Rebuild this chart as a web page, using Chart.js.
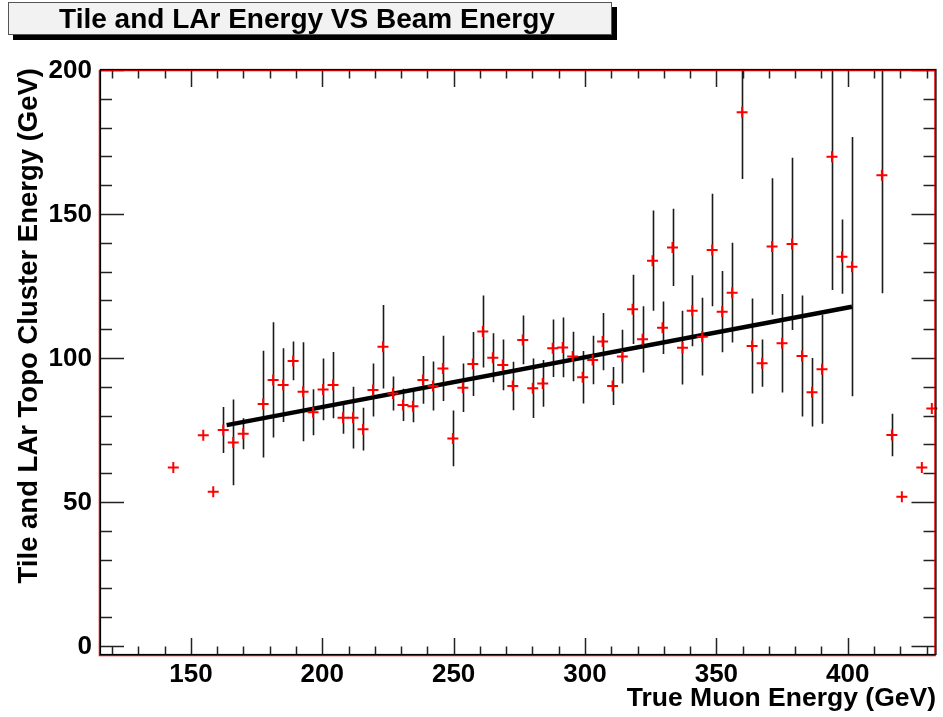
<!DOCTYPE html>
<html>
<head>
<meta charset="utf-8">
<title>Tile and LAr Energy VS Beam Energy</title>
<script src="https://cdn.jsdelivr.net/npm/chart.js@4.4.1/dist/chart.umd.min.js"></script>
<style>
  html, body { margin: 0; padding: 0; background: #fff; }
  #wrap { width: 943px; height: 717px; }
</style>
</head>
<body>
<div id="wrap"><canvas id="energyChart" width="943" height="717"></canvas></div>
<script>
// profile points: true muon energy (GeV), mean topo cluster energy (GeV), error
const muonEnergy = [
  143.3, 154.7, 158.5, 162.3, 166.1, 169.9, 177.5, 181.3, 185.1, 188.9,
  192.7, 196.5, 200.3, 204.1, 207.9, 211.7, 215.5, 219.3, 223.1, 226.9,
  230.7, 234.5, 238.3, 242.1, 245.9, 249.7, 253.5, 257.3, 261.1, 264.9,
  268.7, 272.5, 276.3, 280.1, 283.9, 287.7, 291.5, 295.3, 299.1, 302.9,
  306.7, 310.5, 314.2, 318.1, 321.9, 325.7, 329.5, 333.3, 337.1, 340.8,
  344.6, 348.4, 352.2, 356.0, 359.8, 363.6, 367.4, 371.2, 375.0, 378.8,
  382.6, 386.4, 390.2, 394.0, 397.8, 401.6, 413.0, 416.8, 420.6, 428.2,
  432.0
];
const clusterEnergy = [
  62.0, 73.2, 53.6, 75.0, 70.7, 73.7, 84.0, 92.4, 90.6, 99.0,
  88.3, 81.2, 89.1, 90.6, 79.3, 79.3, 75.3, 88.9, 103.9, 87.7,
  83.7, 83.3, 92.4, 90.3, 96.4, 72.1, 89.7, 97.9, 109.2, 100.1,
  97.6, 90.3, 106.3, 89.5, 91.2, 103.4, 103.7, 100.5, 93.3, 99.3,
  105.7, 90.3, 100.5, 116.9, 106.5, 133.8, 110.5, 138.4, 103.6, 116.4,
  107.4, 137.5, 116.1, 122.7, 185.3, 104.2, 98.2, 138.7, 105.1, 139.6,
  100.7, 88.1, 96.1, 169.9, 135.2, 131.7, 163.5, 73.3, 51.8, 62.0,
  82.5
];
const clusterError = [
  0, 0, 0, 8.0, 14.9, 5.4, 18.5, 20.0, 12.8, 6.7,
  17.2, 8.0, 10.7, 11.5, 5.6, 10.7, 7.4, 9.2, 14.5, 5.9,
  5.6, 5.6, 8.3, 8.5, 11.3, 9.7, 8.4, 11.1, 12.5, 8.5,
  8.8, 8.4, 8.5, 10.3, 8.1, 10.0, 10.4, 8.6, 9.1, 8.4,
  9.9, 6.6, 9.3, 12.0, 11.5, 17.4, 9.1, 13.4, 12.8, 12.3,
  13.5, 19.5, 14.1, 17.3, 23.1, 16.5, 8.2, 23.7, 17.1, 29.9,
  21.0, 11.9, 18.9, 46.3, 12.9, 45.0, 41.0, 7.4, 0, 0,
  0
];

// straight-line fit over the fitted range
const fitEnergy = [163.6, 401.6];
const fitCluster = [76.7, 117.8];

const xTicks = [150, 200, 250, 300, 350, 400];
const yTicks = [0, 50, 100, 150, 200];

const titleText = "Tile and LAr Energy VS Beam Energy";
const xTitle = "True Muon Energy (GeV)";
const yTitle = "Tile and LAr Topo Cluster Energy (GeV)";

const FONT = '"Liberation Sans", Arial, Helvetica, sans-serif';

const points = muonEnergy.map((e, i) => ({ x: e, y: clusterEnergy[i] }));
const fitLine = fitEnergy.map((e, i) => ({ x: e, y: fitCluster[i] }));

// error bars go under the markers
const errorBars = {
  id: "errorBars",
  beforeDatasetsDraw(chart) {
    const { ctx, chartArea, scales } = chart;
    ctx.save();
    ctx.beginPath();
    ctx.rect(chartArea.left, chartArea.top, chartArea.right - chartArea.left, chartArea.bottom - chartArea.top);
    ctx.clip();
    ctx.strokeStyle = "#1a1a1a";
    ctx.lineWidth = 1.6;
    muonEnergy.forEach((e, i) => {
      const err = clusterError[i];
      if (!err) return;
      const px = Math.round(scales.x.getPixelForValue(e)) + 0.5;
      ctx.beginPath();
      ctx.moveTo(px, scales.y.getPixelForValue(clusterEnergy[i] + err));
      ctx.lineTo(px, scales.y.getPixelForValue(clusterEnergy[i] - err));
      ctx.stroke();
    });
    ctx.restore();
  }
};

// ROOT-like frame, inward ticks, labels and title box
const rootFrame = {
  id: "rootFrame",
  afterDraw(chart) {
    const { ctx, chartArea: a, scales } = chart;
    const w = a.right - a.left, h = a.bottom - a.top;
    ctx.save();

    // ticks
    ctx.strokeStyle = "#222";
    ctx.lineWidth = 1.5;
    ctx.beginPath();
    for (let v = 120; v <= 430; v += 10) {
      const px = Math.round(scales.x.getPixelForValue(v)) + 0.5;
      const len = v % 50 === 0 ? 17 : 8.5;
      ctx.moveTo(px, a.bottom); ctx.lineTo(px, a.bottom - len);
      ctx.moveTo(px, a.top); ctx.lineTo(px, a.top + len);
    }
    for (let v = 0; v <= 200; v += 10) {
      const py = Math.round(scales.y.getPixelForValue(v)) + 0.5;
      const len = v % 50 === 0 ? 24 : 12;
      ctx.moveTo(a.left, py); ctx.lineTo(a.left + len, py);
      ctx.moveTo(a.right, py); ctx.lineTo(a.right - len, py);
    }
    ctx.stroke();

    // frame: red box with the black axes one pixel off
    ctx.strokeStyle = "#e00000";
    ctx.lineWidth = 1.5;
    ctx.strokeRect(a.left - 0.5, a.top + 0.5, w, h);
    ctx.strokeStyle = "#000";
    ctx.lineWidth = 1.2;
    ctx.strokeRect(a.left + 0.5, a.top - 0.5, w, h);

    // tick labels
    ctx.fillStyle = "#000";
    ctx.font = "bold 26px " + FONT;
    ctx.textAlign = "center";
    ctx.textBaseline = "alphabetic";
    xTicks.forEach(v => ctx.fillText(String(v), scales.x.getPixelForValue(v), 682));
    ctx.textAlign = "right";
    ctx.textBaseline = "middle";
    yTicks.forEach(v => ctx.fillText(String(v), 92, scales.y.getPixelForValue(v) + 1));

    // axis titles
    ctx.textAlign = "right";
    ctx.textBaseline = "alphabetic";
    ctx.font = "bold 26.5px " + FONT;
    ctx.fillText(xTitle, 936, 706);
    ctx.save();
    ctx.translate(37, 68);
    ctx.rotate(-Math.PI / 2);
    ctx.font = "bold 27.5px " + FONT;
    ctx.fillText(yTitle, 0, 0);
    ctx.restore();

    // title box with shadow
    ctx.fillStyle = "#000";
    ctx.fillRect(13, 7, 604, 33);
    ctx.fillStyle = "#f2f2f2";
    ctx.fillRect(8, 2, 604, 33);
    ctx.strokeStyle = "#555";
    ctx.lineWidth = 1;
    ctx.strokeRect(8.5, 2.5, 603, 32);
    ctx.fillStyle = "#000";
    ctx.font = "bold 28px " + FONT;
    ctx.textAlign = "center";
    ctx.fillText(titleText, 307, 28);

    ctx.restore();
  }
};

const config = {
  type: "scatter",
  data: {
    datasets: [
      {
        label: "fit",
        type: "line",
        data: fitLine,
        borderColor: "#000",
        borderWidth: 4.5,
        pointRadius: 0,
        fill: false,
        order: 2,
      },
      {
        label: "profile",
        data: points,
        pointStyle: "cross",
        pointRadius: 5.5,
        pointHoverRadius: 5.5,
        borderColor: "#ff0000",
        backgroundColor: "#ff0000",
        borderWidth: 2,
        clip: 6,
        order: 1,
      },
    ],
  },
  options: {
    responsive: false,
    animation: false,
    events: [],
    layout: { padding: { left: 100, right: 6, top: 70, bottom: 62 } },
    scales: {
      x: { type: "linear", min: 115.4, max: 433.4, display: false },
      y: { type: "linear", min: -3.1, max: 200, display: false },
    },
    plugins: {
      legend: { display: false },
      title: { display: false },
      tooltip: { enabled: false },
    },
  },
  plugins: [errorBars, rootFrame],
};

const energyChart = new Chart(document.getElementById("energyChart"), config);
</script>
</body>
</html>
